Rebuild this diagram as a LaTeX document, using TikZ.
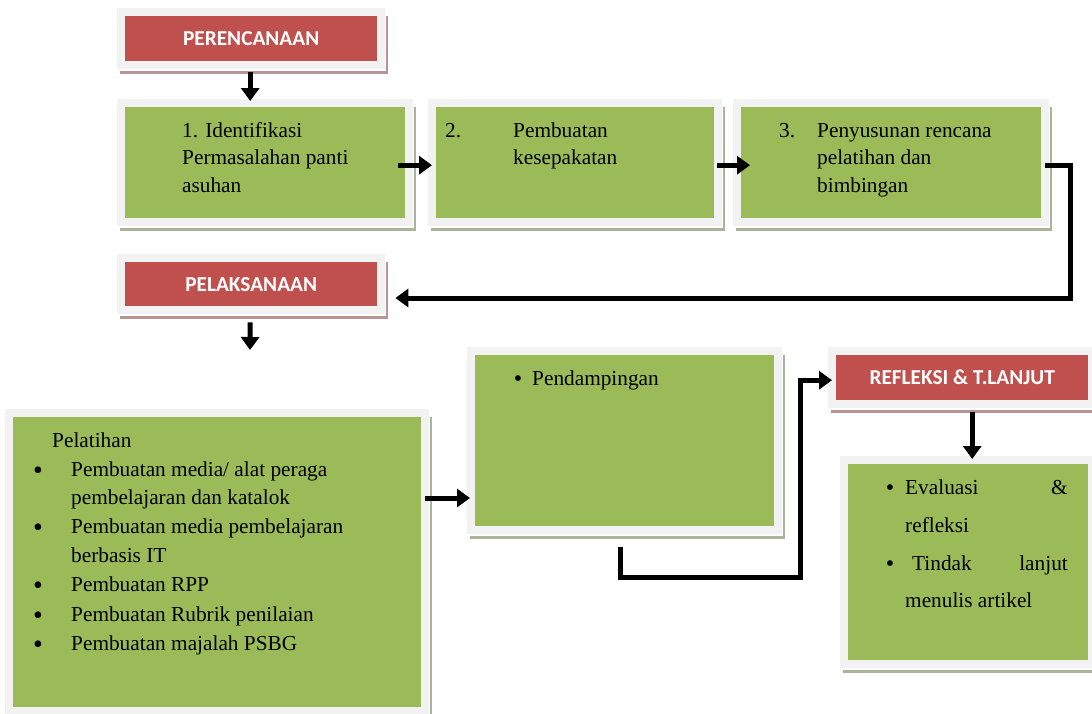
\documentclass[tikz,border=0pt]{standalone}
\usepackage{fontspec}
\setmainfont{Liberation Serif}
\newfontfamily\titlefont{Carlito}
\usetikzlibrary{arrows.meta,calc}
\definecolor{gfill}{HTML}{9BBB59}
\definecolor{rfill}{HTML}{C0504D}
\definecolor{frm}{HTML}{F2F2F2}
\definecolor{gshad}{HTML}{A9B59A}
\definecolor{rshad}{HTML}{B89494}
\newcommand\panel[8]{%
  \fill[#7] (#2-5,#3) rectangle (#4+11,#5+13);
  \fill[white] (#2-8,#3-8) rectangle (#4+9,#5+10);
  \fill[frm] (#2-8,#3-8) rectangle (#4+8,#5+8);
  \node[fill=#6, inner sep=0pt, anchor=north west, minimum width=#4pt-#2pt, minimum height=#5pt-#3pt, text=white, font=\titlefont\bfseries\fontsize{21.3}{25}\selectfont] (#1) at (#2,#3) {#8};
}
\tikzset{
  arr/.style={line width=5pt, -{Triangle[width=18pt,length=13pt]}},
  txt/.style={inner sep=0pt, anchor=base west, font=\fontsize{21.3}{25}\selectfont},
  txte/.style={txt, anchor=base east},
  bul/.style={inner sep=0pt, anchor=base, font=\fontsize{28}{30}\selectfont, yshift=-3pt},
  bulsm/.style={inner sep=0pt, anchor=base, font=\fontsize{24}{28}\selectfont, yshift=-1.5pt}
}
\begin{document}
\begin{tikzpicture}[x=1pt,y=-1pt]
\useasboundingbox (0,0) rectangle (1092,713);
% panels
\panel{peren}{125}{16}{377}{61}{rfill}{rshad}{PERENCANAAN}
\panel{b1}{125}{107}{405}{218}{gfill}{gshad}{}
\panel{b2}{436}{107}{714}{218}{gfill}{gshad}{}
\panel{b3}{741}{107}{1041}{218}{gfill}{gshad}{}
\panel{pelak}{125}{262}{377}{306}{rfill}{rshad}{PELAKSANAAN}
\panel{pelat}{13}{417}{421}{707}{gfill}{gshad}{}
\panel{pend}{475}{355}{774}{526}{gfill}{gshad}{}
\panel{refl}{836}{355}{1088}{400}{rfill}{rshad}{REFLEKSI \& T.LANJUT}
\panel{eval}{848}{464}{1088}{660}{gfill}{gshad}{}
% texts box 1
\node[txt] (t1a) at (182,137) {1. Identifikasi};
\node[txt] (t1b) at (182,164) {Permasalahan panti};
\node[txt] (t1c) at (182,192) {asuhan};
% box 2
\node[txt] (t2n) at (445,137) {2.};
\node[txt] (t2a) at (513,137) {Pembuatan};
\node[txt] (t2b) at (513,164) {kesepakatan};
% box 3
\node[txt] (t3n) at (779,137) {3.};
\node[txt] (t3a) at (817,137) {Penyusunan rencana};
\node[txt] (t3b) at (817,164) {pelatihan dan};
\node[txt] (t3c) at (817,192) {bimbingan};
% pelatihan
\node[txt] (p0) at (52,447) {Pelatihan};
\node[bul] (pb1) at (38,476) {•};
\node[txt] (p1a) at (71,476) {Pembuatan media/ alat peraga};
\node[txt] (p1b) at (71,504) {pembelajaran dan katalok};
\node[bul] (pb2) at (38,533) {•};
\node[txt] (p2a) at (71,533) {Pembuatan media pembelajaran};
\node[txt] (p2b) at (71,562) {berbasis IT};
\node[bul] (pb3) at (38,591) {•};
\node[txt] (p3) at (71,591) {Pembuatan RPP};
\node[bul] (pb4) at (38,621) {•};
\node[txt] (p4) at (71,621) {Pembuatan Rubrik penilaian};
\node[bul] (pb5) at (38,650) {•};
\node[txt] (p5) at (71,650) {Pembuatan majalah PSBG};
% pendampingan
\node[bulsm] (db) at (518,385) {•};
\node[txt] (d1) at (532,385) {Pendampingan};
% evaluasi
\node[bulsm] (eb1) at (890,494) {•};
\node[txt] (e1a) at (905,494) {Evaluasi};
\node[txte] (e1b) at (1068,494) {\&};
\node[txt] (e1c) at (905,532) {refleksi};
\node[bulsm] (eb2) at (890,570) {•};
\node[txt] (e2a) at (912,570) {Tindak};
\node[txte] (e2b) at (1068,570) {lanjut};
\node[txt] (e2c) at (905,607) {menulis artikel};
% connectors
\draw[arr] ($(peren.south)+(-1,11)$) -- ($(peren.south |- b1.north)+(-1,-6)$);
\draw[arr] ($(b1.east)+(-7,2.5)$) -- ($(b2.west)+(-4,2.5)$);
\draw[arr] ($(b2.east)+(3,2.5)$) -- ($(b3.west)+(9,2.5)$);
\coordinate (c1) at (1070,298);
\draw[arr] ($(b3.east)+(4,2.5)$) -| (c1) -- ($(pelak.east |- c1)+(18,0)$);
\coordinate (pa) at (250,350);
\draw[arr] ($(pelak.south)+(-1,16)$) -- (pa);
\coordinate (ya) at (0,498);
\draw[arr] ($(pelat.east |- ya)+(4,0)$) -- ($(pend.west |- ya)+(-5,0)$);
\coordinate (k1) at (620,547);
\coordinate (k2) at (800,577);
\draw[arr] (k1) |- (k2) |- ($(refl.west)+(-4,2.5)$);
\draw[arr] ($(refl.south -| eval.north)+(4,12)$) -- ($(eval.north)+(4,-5)$);
\end{tikzpicture}
\end{document}
